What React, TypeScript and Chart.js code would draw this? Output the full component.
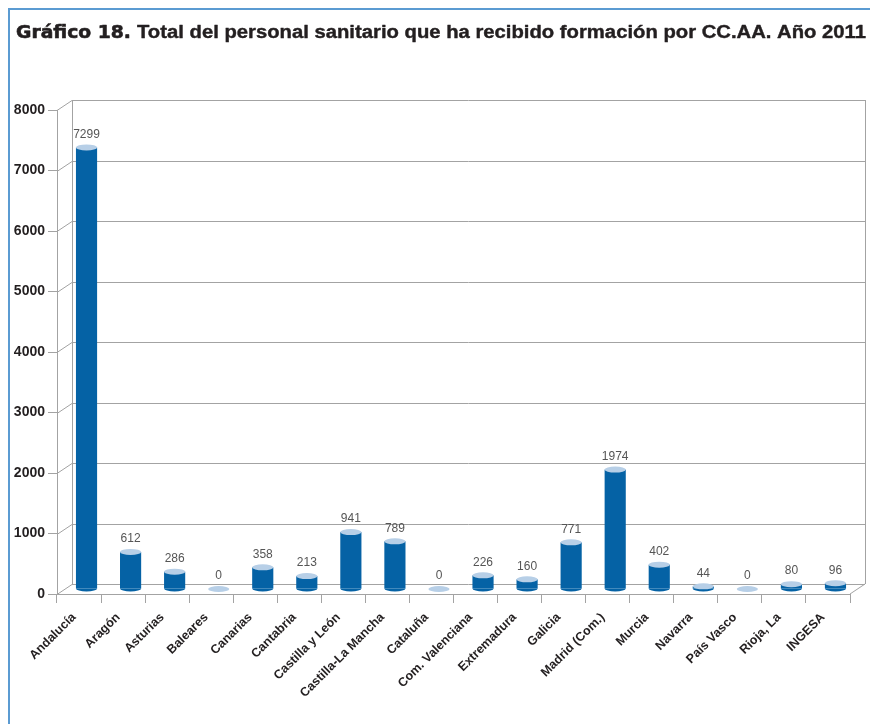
import React, { useEffect, useRef } from "react";
import { Chart, registerables } from "chart.js";

Chart.register(...registerables);

const titleBold = "Gráfico 18.";
const titleRest = "Total del personal sanitario que ha recibido formación por CC.AA. Año 2011";

const categories = [
  "Andalucía",
  "Aragón",
  "Asturias",
  "Baleares",
  "Canarias",
  "Cantabria",
  "Castilla y León",
  "Castilla-La Mancha",
  "Cataluña",
  "Com. Valenciana",
  "Extremadura",
  "Galicia",
  "Madrid (Com.)",
  "Murcia",
  "Navarra",
  "País Vasco",
  "Rioja, La",
  "INGESA",
];

const values = [7299, 612, 286, 0, 358, 213, 941, 789, 0, 226, 160, 771, 1974, 402, 44, 0, 80, 96];

const yMin = 0;
const yMax = 8000;
const yStep = 1000;

const DX = 15;
const DY = -10;
const GRID = "#a3a3a3";
const BAR = "#0562a5";
const BAR_TOP = "#b7cfe7";
const TEXT = "#231f20";
const FRAME = "#5b9bd2";

const framePlugin = {
  id: "frame3d",
  beforeDraw(chart: any) {
    const ctx = chart.ctx;
    ctx.save();
    ctx.fillStyle = "#ffffff";
    ctx.fillRect(0, 0, chart.width, chart.height);
    ctx.strokeStyle = FRAME;
    ctx.lineWidth = 2;
    ctx.beginPath();
    ctx.moveTo(9, chart.height);
    ctx.lineTo(9, 9);
    ctx.lineTo(chart.width, 9);
    ctx.stroke();
    ctx.restore();
  },
  beforeDatasetsDraw(chart: any) {
    const ctx = chart.ctx;
    const { left, right, top, bottom } = chart.chartArea;
    const y = chart.scales.y;
    ctx.save();
    ctx.strokeStyle = GRID;
    ctx.lineWidth = 1;
    ctx.beginPath();
    y.ticks.forEach((t: any) => {
      const yf = Math.round(y.getPixelForValue(t.value)) + 0.5;
      const yb = yf + DY;
      ctx.moveTo(left + DX, yb);
      ctx.lineTo(right + DX, yb);
      ctx.moveTo(left, yf);
      ctx.lineTo(left + DX, yb);
    });
    const bx = Math.round(left + DX) + 0.5;
    const rx = Math.round(right + DX) + 0.5;
    ctx.moveTo(bx, top + DY);
    ctx.lineTo(bx, bottom + DY);
    ctx.moveTo(rx, top + DY);
    ctx.lineTo(rx, bottom + DY);
    ctx.moveTo(right, bottom);
    ctx.lineTo(right + DX, bottom + DY);
    ctx.stroke();
    ctx.restore();
  },
  afterDatasetsDraw(chart: any) {
    const ctx = chart.ctx;
    const meta = chart.getDatasetMeta(0);
    const data = chart.data.datasets[0].data;
    ctx.save();
    meta.data.forEach((el: any, i: number) => {
      const cx = el.x + DX / 2;
      const topY = el.y + DY / 2;
      const botY = el.base + DY / 2;
      const w = el.width;
      const rxe = w / 2;
      const ry = 3;
      if (botY - topY > 0.5) {
        ctx.fillStyle = BAR;
        ctx.fillRect(cx - rxe, topY, w, botY - topY);
        ctx.beginPath();
        ctx.ellipse(cx, botY, rxe, ry, 0, 0, Math.PI);
        ctx.fill();
      }
      ctx.fillStyle = BAR_TOP;
      ctx.beginPath();
      ctx.ellipse(cx, topY, rxe, ry, 0, 0, Math.PI * 2);
      ctx.fill();
      ctx.fillStyle = "#555555";
      ctx.font = "12px 'Liberation Sans', Arial, sans-serif";
      ctx.textAlign = "center";
      ctx.textBaseline = "middle";
      ctx.fillText(String(data[i]), cx, topY - 13);
    });
    ctx.restore();
  },
  afterDraw(chart: any) {
    const ctx = chart.ctx;
    ctx.save();
    ctx.fillStyle = TEXT;
    ctx.strokeStyle = TEXT;
    ctx.lineJoin = "round";
    ctx.textBaseline = "alphabetic";
    ctx.textAlign = "left";
    ctx.font = "bold 18px 'DejaVu Sans', sans-serif";
    let m = ctx.measureText(titleBold).width;
    ctx.save();
    ctx.translate(16, 37.5);
    ctx.scale(115 / m, 1);
    ctx.lineWidth = 0.6;
    ctx.fillText(titleBold, 0, 0);
    ctx.strokeText(titleBold, 0, 0);
    ctx.restore();
    ctx.font = "bold 18px 'Liberation Sans', Arial, sans-serif";
    m = ctx.measureText(titleRest).width;
    ctx.save();
    ctx.translate(137, 37.5);
    ctx.scale(729 / m, 1);
    ctx.lineWidth = 0.4;
    ctx.fillText(titleRest, 0, 0);
    ctx.strokeText(titleRest, 0, 0);
    ctx.restore();
    ctx.restore();
  },
};

export default function App() {
  const ref = useRef<HTMLCanvasElement | null>(null);
  useEffect(() => {
    if (!ref.current) return;
    const chart = new Chart(ref.current, {
      type: "bar",
      data: {
        labels: categories,
        datasets: [
          {
            data: values,
            backgroundColor: "rgba(0,0,0,0)",
            borderWidth: 0,
            barPercentage: 0.48,
            categoryPercentage: 1,
          },
        ],
      },
      options: {
        responsive: false,
        animation: false,
        devicePixelRatio: 1,
        layout: { padding: { left: 0, right: 20, top: 110, bottom: 0 } },
        plugins: {
          legend: { display: false },
          tooltip: { enabled: false },
          title: { display: false },
        },
        scales: {
          x: {
            grid: {
              display: true,
              drawOnChartArea: false,
              drawTicks: true,
              tickLength: 9,
              color: GRID,
              offset: true,
            },
            border: { display: true, color: GRID },
            ticks: {
              minRotation: 45,
              maxRotation: 45,
              autoSkip: false,
              padding: 7,
              labelOffset: -5,
              color: TEXT,
              font: { family: "'Liberation Sans', Arial, sans-serif", size: 12.5, weight: "bold" },
            },
            afterFit: (s: any) => {
              s.height = 130;
            },
          },
          y: {
            min: yMin,
            max: yMax,
            grid: {
              drawOnChartArea: false,
              drawTicks: true,
              tickLength: 9,
              color: GRID,
            },
            border: { display: true, color: GRID },
            ticks: {
              stepSize: yStep,
              padding: 3,
              color: TEXT,
              font: { family: "'Liberation Sans', Arial, sans-serif", size: 14, weight: "bold" },
              callback: (v: any) => String(v),
            },
            afterFit: (s: any) => {
              s.width = 57;
            },
          },
        },
      },
      plugins: [framePlugin],
    });
    return () => chart.destroy();
  }, []);
  return (
    <div style={{ position: "fixed", left: 0, top: 0, width: 870, height: 724, background: "#fff" }}>
      <canvas ref={ref} width={870} height={724} style={{ display: "block" }} />
    </div>
  );
}
